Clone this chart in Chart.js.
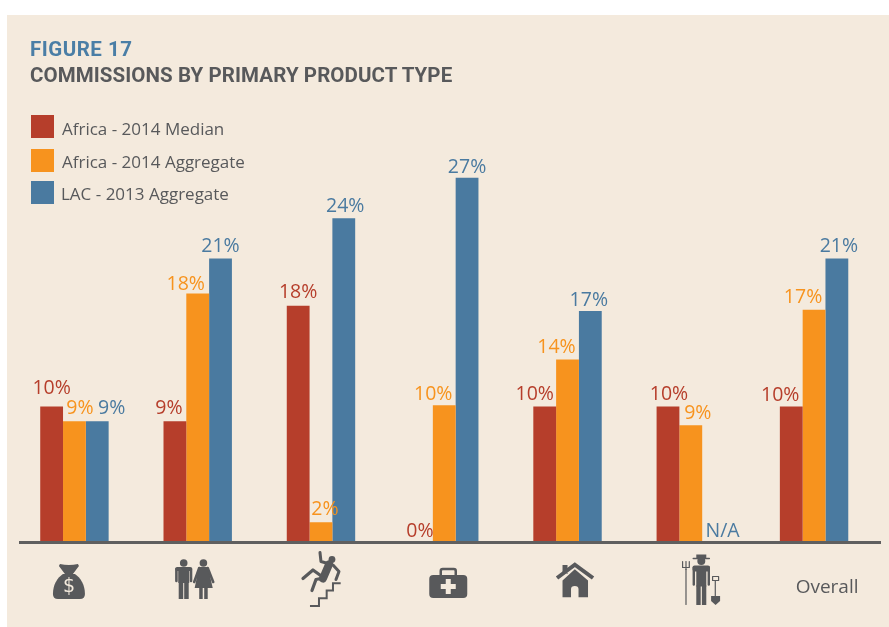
<!DOCTYPE html>
<html>
<head>
<meta charset="utf-8">
<title>Figure 17</title>
<script src="https://cdn.jsdelivr.net/npm/chart.js@4"></script>
<style>
    html, body { margin: 0; padding: 0; background: #fff; width: 889px; height: 627px; overflow: hidden; }
    #panel { position: absolute; left: 7px; top: 15px; width: 882px; height: 612px; background: #f4eadd; }
    #chart { position: absolute; left: 0; top: 0; }
    .title { position: absolute; left: 30px; font: 700 20.5px Roboto, sans-serif; white-space: nowrap; line-height: 24px; }
    #legend div { position: absolute; font: 17px "Open Sans", sans-serif; color: #58595b; white-space: nowrap; line-height: 22px; }
    #legend span { position: absolute; width: 23px; height: 23px; }
</style>
</head>
<body>
<div id="panel"></div>
<canvas id="chart" width="889" height="627"></canvas>
<div class="title" style="top:37px;color:#4a7ea6;letter-spacing:0.5px">FIGURE 17</div>
<div class="title" style="top:63px;color:#58595b;letter-spacing:0.08px">COMMISSIONS BY PRIMARY PRODUCT TYPE</div>
<div id="legend"></div>
<script>
// Values (the printed labels are rounded)
const categories = ['Credit', 'Life', 'Accident', 'Health', 'Property', 'Agriculture', 'Overall'];
const seriesNames = ['Africa - 2014 Median', 'Africa - 2014 Aggregate', 'LAC - 2013 Aggregate'];
const median2014 = [10, 8.9, 17.5, 0, 10, 10, 10];
const aggregate2014 = [8.9, 18.4, 1.4, 10.1, 13.5, 8.6, 17.2];
const lac2013 = [8.9, 21, 24, 27, 17.1, null, 21];
const medianLabels = ['10%', '9%', '18%', '0%', '10%', '10%', '10%'];
const aggregateLabels = ['9%', '18%', '2%', '10%', '14%', '9%', '17%'];
const lacLabels = ['9%', '21%', '24%', '27%', '17%', 'N/A', '21%'];

const RED = '#b63e2b';
const ORANGE = '#f7931e';
const BLUE = '#4a7aa0';
const GREY = '#58595b';
const PANEL = '#f4eadd';

// The labels in the original are hand placed, so each one gets a nudge from its bar
const labelNudgeX = [
    [0, -6, 0, -1.5, -10, 1, -11],
    [5.5, -12, 4, -11, -11, 7, -11],
    [14.5, 0, 1.5, 0, -1.5, 9, 2]
];
const labelNudgeY = [
    [-18.5, -12.5, -13.5, -9.5, -12.5, -12.5, -11.5],
    [-12.5, -9.5, -12.5, -10.5, -11.5, -11.5, -12.5],
    [-12.5, -12.5, -11.5, -10.5, -10.5, -9.5, -12.5]
];

const colours = [RED, ORANGE, BLUE];
const allLabels = [medianLabels, aggregateLabels, lacLabels];

// Legend
const legendBox = document.getElementById('legend');
const swatchTops = [115, 149, 181];
const textTops = [118, 151, 183];
const textLefts = [62, 62, 61];
seriesNames.forEach(function(name, i) {
    const swatch = document.createElement('span');
    swatch.style.cssText = 'left:31px;top:' + swatchTops[i] + 'px;background:' + colours[i];
    legendBox.appendChild(swatch);
    const text = document.createElement('div');
    text.textContent = name;
    text.style.left = textLefts[i] + 'px';
    text.style.top = textTops[i] + 'px';
    legendBox.appendChild(text);
});

// Icons under the axis, each drawn around its own centre
function rect(ctx, x0, y0, x1, y1) {
    ctx.fillRect(x0, y0, x1 - x0, y1 - y0);
}

function line(ctx, pts, width) {
    ctx.lineWidth = width;
    ctx.lineCap = 'round';
    ctx.lineJoin = 'round';
    ctx.beginPath();
    pts.forEach(function(p, i) {
        if (i === 0) ctx.moveTo(p[0], p[1]); else ctx.lineTo(p[0], p[1]);
    });
    ctx.stroke();
}

function disc(ctx, x, y, r) {
    ctx.beginPath();
    ctx.arc(x, y, r, 0, Math.PI * 2);
    ctx.fill();
}

function drawBag(ctx) {
    const body = new Path2D('M-6,-7 C-12,-3 -16,4 -16,13 Q-16,18 -11,18 L11,18 Q16,18 16,13 C16,4 12,-3 6,-7 Z');
    const neck = new Path2D('M-9,-17 Q0,-15 9,-17 L10,-15 L4,-7 L-4,-7 L-10,-15 Z');
    ctx.fill(body);
    ctx.fill(neck);
    ctx.fillStyle = PANEL;
    ctx.font = '19px "DejaVu Sans"';
    ctx.textAlign = 'center';
    ctx.textBaseline = 'middle';
    ctx.fillText('$', 0, 6);
}

function drawPeople(ctx) {
    // man
    disc(ctx, -11, -18, 3.8);
    ctx.beginPath();
    ctx.roundRect(-19.5, -14, 17, 4, 2);
    ctx.fill();
    rect(ctx, -16.5, -13, -5.5, 2);
    line(ctx, [[-18.3, -12], [-18.3, 0]], 2.6);
    line(ctx, [[-3.7, -12], [-3.7, 0]], 2.6);
    rect(ctx, -16, 2, -11.5, 18);
    rect(ctx, -10.5, 2, -6, 18);
    // woman
    disc(ctx, 8.7, -18, 3.8);
    ctx.fill(new Path2D('M4,-14 L13.4,-14 L18,7 L0,7 Z'));
    line(ctx, [[4.5, -13], [-0.5, 1]], 2.6);
    line(ctx, [[13, -13], [18.5, 1]], 2.6);
    rect(ctx, 4.5, 6, 8, 18);
    rect(ctx, 9.5, 6, 13, 18);
}

function drawFall(ctx) {
    disc(ctx, 10, -20, 3.4);
    line(ctx, [[-2, -27], [-1, -18], [6, -16]], 3);
    line(ctx, [[7, -15], [1, -1]], 8);
    line(ctx, [[11, -14.5], [17, -8], [14, 0]], 3);
    line(ctx, [[0, -3], [-9, -9.5], [-19, -1]], 3.2);
    line(ctx, [[1, -1.5], [-6, 0], [-10, 11]], 3.2);
    ctx.lineCap = 'butt';
    ctx.lineJoin = 'miter';
    ctx.lineWidth = 2;
    ctx.beginPath();
    ctx.moveTo(-12, 26.5);
    [[-3, 26.5], [-3, 18.8], [4.7, 18.8], [4.7, 11], [11, 11], [11, 3.8], [18.7, 3.8]].forEach(function(p) {
        ctx.lineTo(p[0], p[1]);
    });
    ctx.stroke();
}

function drawKit(ctx) {
    ctx.beginPath();
    ctx.roundRect(-19, -8, 38, 23, 4);
    ctx.fill();
    ctx.lineWidth = 2.5;
    ctx.beginPath();
    ctx.roundRect(-7.5, -14, 15, 8, 2);
    ctx.stroke();
    ctx.fillStyle = PANEL;
    rect(ctx, -7.5, 1, 7.5, 6);
    rect(ctx, -2.5, -4, 2.5, 11);
}

function drawHouse(ctx) {
    rect(ctx, -13, -16, -8, -7);
    ctx.fill(new Path2D('M-0.7,-11.7 L12.5,-0.5 L12.5,16.3 L3,16.3 L3,8 Q3,5 -0.7,5 Q-4.5,5 -4.5,8 L-4.5,16.3 L-13,16.3 L-13,-0.5 Z'));
    ctx.strokeStyle = PANEL;
    line(ctx, [[-21, 0], [-0.7, -16], [20, 0]], 3);
    ctx.strokeStyle = GREY;
    ctx.lineCap = 'butt';
    ctx.lineJoin = 'miter';
    ctx.lineWidth = 4;
    ctx.beginPath();
    ctx.moveTo(-18.5, -3);
    ctx.lineTo(-0.7, -16.3);
    ctx.lineTo(17.5, -3);
    ctx.stroke();
}

function drawFarmer(ctx) {
    // hat and head
    rect(ctx, -5, -25, 5, -21);
    line(ctx, [[-8, -21], [8, -21]], 1.6);
    disc(ctx, 0, -18.5, 4);
    // body
    ctx.beginPath();
    ctx.roundRect(-8.7, -14, 17.4, 6, 2);
    ctx.fill();
    rect(ctx, -5, -12, 5, 7);
    line(ctx, [[-7.5, -12], [-7.5, 5]], 2.4);
    line(ctx, [[7.5, -12], [7.5, 5]], 2.4);
    rect(ctx, -5, 6, -0.6, 25.5);
    rect(ctx, 0.6, 6, 5, 25.5);
    // pitchfork
    line(ctx, [[-15.3, -10], [-15.3, 25]], 1.2);
    line(ctx, [[-18.7, -18], [-18.7, -12], [-12, -12], [-12, -18]], 1.2);
    line(ctx, [[-15.3, -18], [-15.3, -10]], 1.2);
    // shovel
    line(ctx, [[14, 1], [14, 17]], 1.2);
    ctx.lineWidth = 1.2;
    ctx.strokeRect(11.3, -3, 6, 4);
    ctx.fill(new Path2D('M9.8,16.5 L18.8,16.5 L18.8,21.5 L14.3,25.5 L9.8,21.5 Z'));
}

const iconFns = [drawBag, drawPeople, drawFall, drawKit, drawHouse, drawFarmer];
const iconShiftX = [-5.5, -3, 1, 4, 8, 10.5];
const iconCentreY = [581, 581, 579.5, 583, 581, 579.5];

// Baseline, icons and value labels are not standard Chart.js elements
const figureExtras = {
    id: 'figureExtras',
    afterDatasetsDraw: function(chart) {
        const ctx = chart.ctx;
        const xScale = chart.scales.x;
        const yScale = chart.scales.y;
        const zero = yScale.getPixelForValue(0);

        ctx.save();
        ctx.fillStyle = '#5f5f5f';
        ctx.fillRect(19, zero, 862, 3);
        ctx.restore();

        chart.data.datasets.forEach(function(ds, s) {
            chart.getDatasetMeta(s).data.forEach(function(bar, i) {
                const top = ds.data[i] === null ? zero : yScale.getPixelForValue(ds.data[i]);
                ctx.save();
                ctx.font = '19.5px "Open Sans", sans-serif';
                ctx.fillStyle = colours[s];
                ctx.textAlign = 'center';
                ctx.textBaseline = 'middle';
                ctx.fillText(allLabels[s][i], bar.x + labelNudgeX[s][i], top + labelNudgeY[s][i]);
                ctx.restore();
            });
        });

        iconFns.forEach(function(fn, i) {
            ctx.save();
            ctx.fillStyle = GREY;
            ctx.strokeStyle = GREY;
            ctx.translate(xScale.getPixelForValue(i) + iconShiftX[i], iconCentreY[i]);
            fn(ctx);
            ctx.restore();
        });
    }
};

new Chart(document.getElementById('chart'), {
    type: 'bar',
    data: {
        labels: categories,
        datasets: [
            { label: seriesNames[0], data: median2014, backgroundColor: RED },
            { label: seriesNames[1], data: aggregate2014, backgroundColor: ORANGE },
            { label: seriesNames[2], data: lac2013, backgroundColor: BLUE }
        ]
    },
    options: {
        responsive: false,
        animation: false,
        layout: { padding: { left: 12.8, right: 13.3, top: 137.5, bottom: 0 } },
        datasets: { bar: { barPercentage: 1, categoryPercentage: 0.555, borderWidth: 0 } },
        plugins: { legend: { display: false }, tooltip: { enabled: false }, title: { display: false } },
        scales: {
            x: {
                grid: { display: false },
                border: { display: false },
                afterFit: function(scale) { scale.height = 86; },
                ticks: {
                    autoSkip: false,
                    maxRotation: 0,
                    padding: 27,
                    labelOffset: 13,
                    color: GREY,
                    font: { family: '"Open Sans", sans-serif', size: 19 },
                    // only the last group has a word, the others have icons
                    callback: function(value, index) {
                        return index === categories.length - 1 ? categories[index] : '';
                    }
                }
            },
            y: { display: false, min: 0, max: 30 }
        }
    },
    plugins: [figureExtras]
});
</script>
</body>
</html>
